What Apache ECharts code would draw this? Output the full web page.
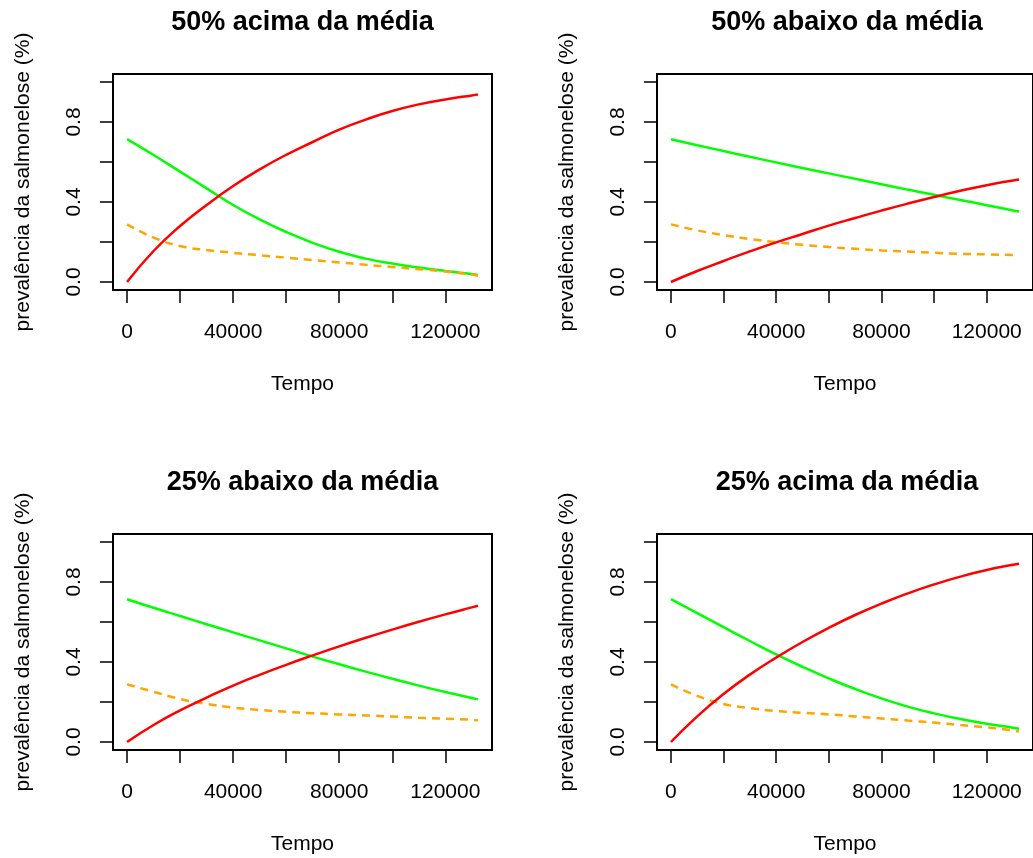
<!DOCTYPE html>
<html><head><meta charset="utf-8">
<script src="https://cdn.jsdelivr.net/npm/echarts@6/dist/echarts.min.js"></script>
<style>html,body{margin:0;padding:0;background:#fff}#chart{width:1033px;height:858px}</style>
</head><body><div id="chart"></div>
<script>
// ---- data ----
const tempo = [0,10000,20000,30000,40000,50000,60000,70000,80000,90000,100000,110000,120000,130000,132300];
const painelTitulos = ['50% acima da média','50% abaixo da média','25% abaixo da média','25% acima da média'];

const p1Verde    = [0.714,0.635,0.552,0.468,0.385,0.313,0.250,0.196,0.151,0.117,0.092,0.072,0.055,0.040,0.035];
const p1Vermelho = [0.000,0.155,0.280,0.385,0.480,0.563,0.636,0.700,0.762,0.812,0.855,0.888,0.913,0.933,0.937];
const p1Laranja  = [0.288,0.222,0.180,0.160,0.146,0.134,0.122,0.110,0.098,0.086,0.075,0.064,0.052,0.037,0.031];

const p2Verde    = [0.714,0.684,0.655,0.626,0.598,0.570,0.543,0.516,0.489,0.462,0.436,0.410,0.384,0.358,0.353];
const p2Vermelho = [0.000,0.055,0.105,0.153,0.198,0.240,0.282,0.320,0.357,0.392,0.425,0.456,0.484,0.508,0.513];
const p2Laranja  = [0.288,0.258,0.235,0.215,0.199,0.186,0.175,0.166,0.158,0.152,0.146,0.141,0.138,0.135,0.134];

const p3Verde    = [0.714,0.671,0.630,0.589,0.548,0.508,0.468,0.427,0.389,0.352,0.316,0.282,0.250,0.220,0.213];
const p3Vermelho = [0.000,0.085,0.158,0.222,0.282,0.336,0.386,0.433,0.478,0.521,0.562,0.601,0.638,0.673,0.681];
const p3Laranja  = [0.288,0.251,0.215,0.190,0.172,0.160,0.151,0.144,0.138,0.133,0.127,0.121,0.117,0.111,0.109];

const p4Verde    = [0.714,0.644,0.574,0.505,0.438,0.376,0.318,0.265,0.218,0.177,0.143,0.115,0.091,0.071,0.066];
const p4Vermelho = [0.000,0.128,0.240,0.337,0.422,0.500,0.571,0.635,0.692,0.743,0.788,0.827,0.860,0.886,0.891];
const p4Laranja  = [0.288,0.231,0.190,0.170,0.155,0.146,0.138,0.128,0.118,0.107,0.097,0.085,0.073,0.058,0.052];

const xTicks  = [0,20000,40000,60000,80000,100000,120000];
const xLabels = [0,40000,80000,120000];
const yTicks  = [0,0.2,0.4,0.6,0.8,1.0];
const yLabels = [0,0.4,0.8];
const xTitulo = 'Tempo';
const yTitulo = 'prevalência da salmonelose (%)';

// ---- layout / style ----
const paineis = [
  {verde:p1Verde, vermelho:p1Vermelho, laranja:p1Laranja},
  {verde:p2Verde, vermelho:p2Vermelho, laranja:p2Laranja},
  {verde:p3Verde, vermelho:p3Vermelho, laranja:p3Laranja},
  {verde:p4Verde, vermelho:p4Vermelho, laranja:p4Laranja}
];
const FONT = '"Liberation Sans", Arial, Helvetica, sans-serif';
const boxes = [
  {left:113, top:74, width:379, height:216},
  {left:657, top:74, width:380, height:216},
  {left:113, top:534, width:379, height:216},
  {left:657, top:534, width:380, height:216}
];
const tMax = tempo[tempo.length-1];
const xMin = -0.04*tMax, xMax = 1.04*tMax;
const yMin = -0.04, yMax = 1.04;

const grid = [], xAxis = [], yAxis = [], series = [], title = [];
boxes.forEach((b,i)=>{
  grid.push({left:b.left, top:b.top, width:b.width, height:b.height, show:true,
    borderColor:'#000', borderWidth:2, backgroundColor:'transparent', containLabel:false});
  xAxis.push({type:'value', gridIndex:i, min:xMin, max:xMax, position:'bottom',
    name:xTitulo, nameLocation:'middle', nameGap:84, nameMoveOverlap:false,
    nameTextStyle:{fontFamily:FONT, fontSize:21, color:'#000'},
    axisLine:{show:false, onZero:false}, splitLine:{show:false},
    axisTick:{show:true, customValues:xTicks, length:13, lineStyle:{color:'#000', width:1.5}},
    axisLabel:{show:true, customValues:xLabels, margin:32, fontFamily:FONT, fontSize:21, color:'#000',
      formatter:v=>String(v), hideOverlap:false, showMinLabel:true, showMaxLabel:true}
  });
  yAxis.push({type:'value', gridIndex:i, min:yMin, max:yMax, position:'left',
    name:yTitulo, nameLocation:'middle', nameGap:79, nameRotate:90, nameMoveOverlap:false,
    nameTextStyle:{fontFamily:FONT, fontSize:21, color:'#000'},
    axisLine:{show:false, onZero:false}, splitLine:{show:false},
    axisTick:{show:true, customValues:yTicks, length:13, lineStyle:{color:'#000', width:1.5}},
    axisLabel:{show:true, customValues:yLabels, rotate:90, margin:28, fontFamily:FONT, fontSize:21, color:'#000',
      formatter:v=>Number(v).toFixed(1), hideOverlap:false}
  });
  title.push({text:painelTitulos[i], left:b.left+b.width/2, top:b.top-65, textAlign:'center', padding:0,
    textStyle:{fontFamily:FONT, fontSize:27, fontWeight:'bold', color:'#000'}});
  const p = paineis[i];
  const mk = (arr)=>tempo.map((t,k)=>[t, arr[k]]);
  series.push({type:'line', xAxisIndex:i, yAxisIndex:i, data:mk(p.verde), showSymbol:false, smooth:0.5,
    lineStyle:{color:'#00FF00', width:2.5}, z:2});
  series.push({type:'line', xAxisIndex:i, yAxisIndex:i, data:mk(p.laranja), showSymbol:false, smooth:0.5,
    lineStyle:{color:'#FFA500', width:2.5, type:[8,6]}, z:3});
  series.push({type:'line', xAxisIndex:i, yAxisIndex:i, data:mk(p.vermelho), showSymbol:false, smooth:0.5,
    lineStyle:{color:'#FF0000', width:2.5}, z:4});
});

const chart = echarts.init(document.getElementById('chart'), null, {renderer:'canvas'});
chart.setOption({animation:false, backgroundColor:'#fff', title, grid, xAxis, yAxis, series});
</script>
</body></html>
